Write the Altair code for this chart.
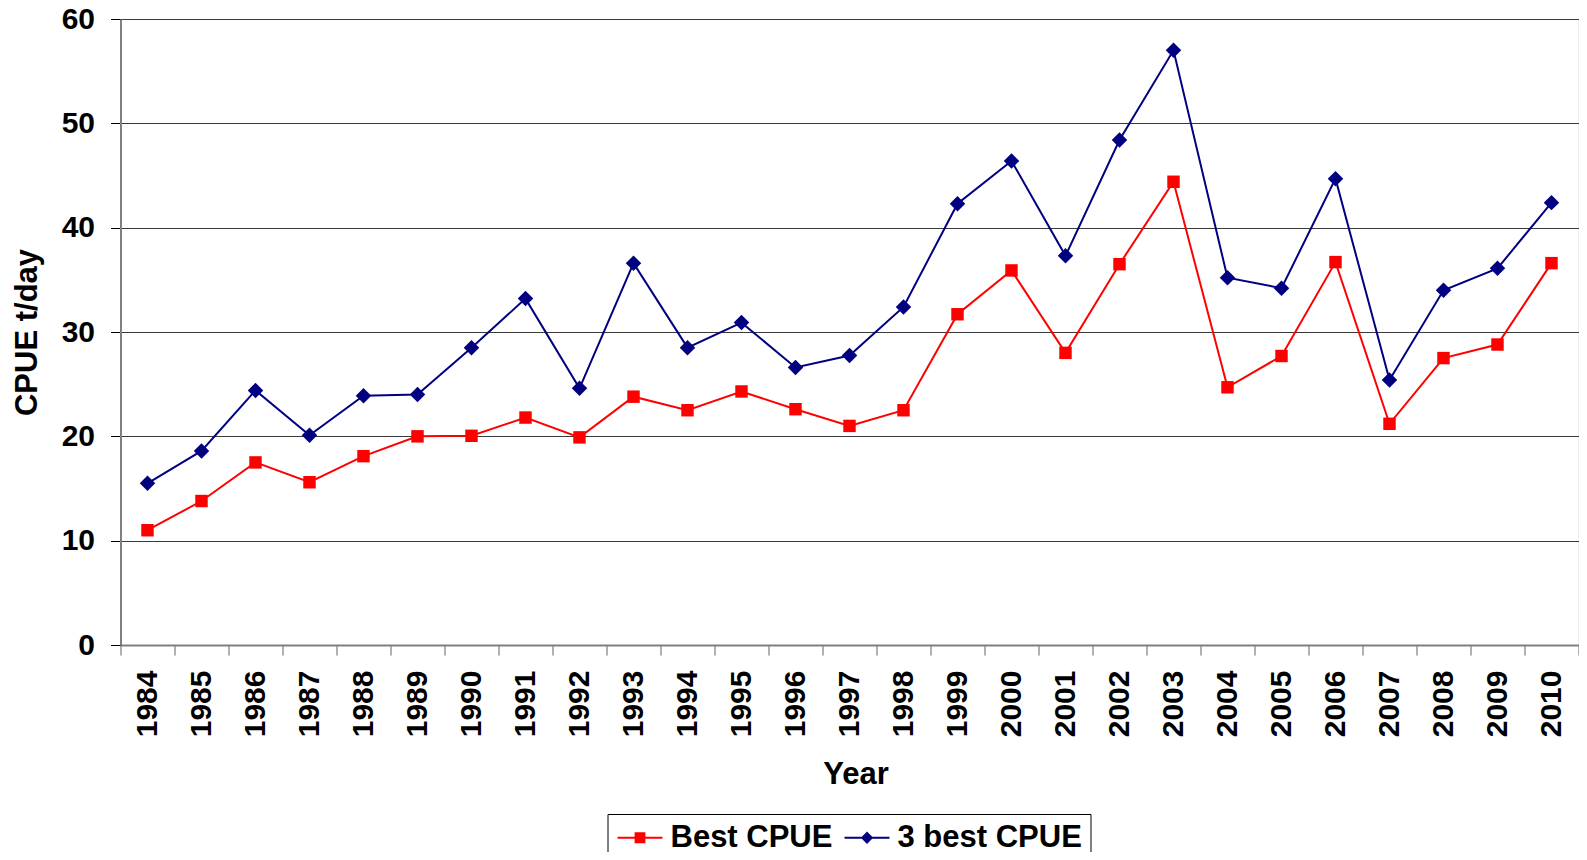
import altair as alt
import pandas as pd

years = ["1984", "1985", "1986", "1987", "1988", "1989", "1990", "1991", "1992",
         "1993", "1994", "1995", "1996", "1997", "1998", "1999", "2000", "2001",
         "2002", "2003", "2004", "2005", "2006", "2007", "2008", "2009", "2010"]
best_cpue = [11.0, 13.8, 17.5, 15.6, 18.1, 20.0, 20.05, 21.8, 19.9,
             23.8, 22.5, 24.3, 22.6, 21.0, 22.5, 31.7, 35.9, 28.0,
             36.5, 44.4, 24.7, 27.7, 36.7, 21.2, 27.5, 28.8, 36.6]
best3_cpue = [15.5, 18.6, 24.4, 20.1, 23.9, 24.0, 28.5, 33.2, 24.6,
              36.6, 28.5, 30.9, 26.6, 27.75, 32.4, 42.3, 46.4, 37.3,
              48.4, 57.0, 35.2, 34.2, 44.7, 25.4, 34.0, 36.1, 42.4]
series_names = ["Best CPUE", "3 best CPUE"]
series_colors = ["#FF0000", "#000080"]

rows = []
for i, y in enumerate(years):
    rows.append({"year": y, "series": series_names[0], "value": best_cpue[i]})
    rows.append({"year": y, "series": series_names[1], "value": best3_cpue[i]})
df = pd.DataFrame(rows)

FONT = "Liberation Sans"
# legend symbols: a short line with a marker in the middle
sq_path = "M-1.5,-0.07H1.5V0.07H-1.5Z M-0.36,-0.36H0.36V0.36H-0.36Z"
dm_path = "M-1.5,-0.07H1.5V0.07H-1.5Z M0,-0.41L0.41,0L0,0.41L-0.41,0Z"

x_enc = alt.X("year:O", sort=years,
              scale=alt.Scale(type="band", paddingInner=0, paddingOuter=0),
              axis=alt.Axis(title="Year", labelAngle=-90, tickBand="extent",
                            labelFont=FONT, labelFontSize=30, labelFontWeight="bold",
                            labelColor="black", labelPadding=15,
                            titleFont=FONT, titleFontSize=31, titleFontWeight="bold",
                            titleColor="black", titleBaseline="alphabetic",
                            titleY=138, titleX=735,
                            domainColor="#808080", domainWidth=2,
                            tickColor="#606060", tickSize=10, tickWidth=1,
                            grid=False))
y_enc = alt.Y("value:Q",
              scale=alt.Scale(domain=[0, 60], nice=False),
              axis=alt.Axis(title="CPUE t/day", values=[0, 10, 20, 30, 40, 50, 60],
                            labelFont=FONT, labelFontSize=30, labelFontWeight="bold",
                            labelColor="black", labelPadding=16,
                            titleFont=FONT, titleFontSize=31, titleFontWeight="bold",
                            titleColor="black", titleAngle=270, titleBaseline="middle",
                            titleX=-93, titleY=313,
                            domainColor="#808080", domainWidth=2,
                            tickColor="black", tickSize=10, tickWidth=1,
                            grid=True, gridColor="#3a3a3a", gridWidth=1))

legend = alt.Legend(
    title=None, orient="none", legendX=487, legendY=795,
    direction="horizontal", columns=2,
    labelFont=FONT, labelFontSize=31, labelFontWeight="bold", labelColor="black",
    labelLimit=0, labelOffset=15, symbolOffset=9, symbolSize=900,
    symbolStrokeWidth=0, symbolOpacity=1, columnPadding=10, padding=8,
    strokeColor="black",
)

legend_layer = alt.Chart(df).mark_point(filled=True, opacity=0, size=10).encode(
    x=x_enc, y=y_enc,
    color=alt.Color("series:N",
                    scale=alt.Scale(domain=series_names, range=series_colors),
                    legend=legend),
    shape=alt.Shape("series:N",
                    scale=alt.Scale(domain=series_names, range=[sq_path, dm_path]),
                    legend=legend),
)

def series_layers(name, color, shape, size):
    base = alt.Chart(df).transform_filter(alt.datum.series == name)
    line = base.mark_line(strokeWidth=2, color=color).encode(x=x_enc, y=y_enc)
    pts = base.mark_point(shape=shape, filled=True, size=size, opacity=1,
                          color=color).encode(x=x_enc, y=y_enc)
    return [line, pts]

layers = [legend_layer] + series_layers(series_names[0], series_colors[0], "square", 155) \
    + series_layers(series_names[1], series_colors[1], "diamond", 240)

chart = alt.layer(*layers).properties(
    width=1458, height=626,
    autosize=alt.AutoSizeParams(type="none"),
    padding={"left": 112.5, "top": 11, "right": 0, "bottom": 207},
).configure_view(stroke=None).configure(background="white")

chart.save("out.html", embed_options={"renderer": "svg", "actions": False})
